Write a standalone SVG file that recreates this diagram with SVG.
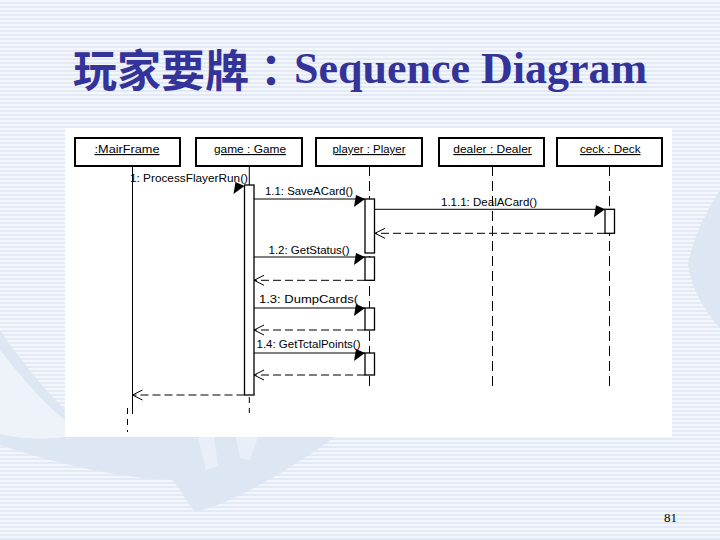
<svg xmlns="http://www.w3.org/2000/svg" xmlns:xlink="http://www.w3.org/1999/xlink" width="720" height="540" viewBox="0 0 720 540">
<defs>
<pattern id="stripes" x="0" y="0" width="8" height="4" patternUnits="userSpaceOnUse">
<rect width="8" height="4" fill="#f3f6fb"/>
<rect y="2" width="8" height="2" fill="#e3eaf5"/>
</pattern>
<path id="fhead" d="M0,0 L-9,-4 L-11,8 Z" fill="#000"/>
<path id="ohead" d="M10,-5 L0,0 L10,5" fill="none" stroke="#000" stroke-width="1"/>
</defs>
<style>
.box{fill:#fff;stroke:#000;stroke-width:2}
.lbl{font-family:"Liberation Sans",Arial,sans-serif;font-size:11.5px;fill:#000;text-decoration:underline}
.msg{font-family:"Liberation Sans",Arial,sans-serif;font-size:11.5px;fill:#000}
.life{stroke:#000;stroke-width:1;fill:none}
.dash{stroke:#000;stroke-width:1;stroke-dasharray:10 5;fill:none}
.call{stroke:#000;stroke-width:1;fill:none}
.ret{stroke:#000;stroke-width:1;stroke-dasharray:8 4;fill:none}
.act{fill:#fff;stroke:#000;stroke-width:1.3}
.swoosh{fill:#dde7f3}
</style>
<g id="background">
<rect width="720" height="540" fill="url(#stripes)"/>
<path class="swoosh" d="M0,330 C20,360 45,390 65,410 L65,437 L335,437 C300,462 260,488 215,506 L195,512 C185,500 180,488 172,480 C120,478 60,465 0,445 Z"/>
<path d="M0,350 C20,375 40,400 65,420 L65,437 C40,440 15,438 0,434 Z" fill="#eef3f9"/>
<path d="M198,437 L214,437 L218,466 L206,470 Z" fill="#e9eff8"/>
<path d="M236,437 L258,437 L250,460 L240,458 Z" fill="#e9eff8"/>
<path class="swoosh" d="M720,190 C706,212 692,240 688,265 C692,288 703,310 720,328 Z"/>
<rect x="65" y="128" width="607" height="309" fill="#fff"/>
</g>
<g id="title">
<text font-weight="bold" fill="#333399"><tspan x="73" y="87" font-family="'Noto Sans CJK TC','Noto Sans CJK SC',sans-serif" font-size="44">玩家要牌：</tspan><tspan x="294" y="83" font-family="'Liberation Serif','Times New Roman',serif" font-size="44">Sequence Diagram</tspan></text>
</g>
<g id="mainframe">
<rect class="box" x="75" y="138" width="105" height="28"/>
<text class="lbl" x="94.5" y="153" textLength="65" lengthAdjust="spacingAndGlyphs">:MairFrame</text>
<line class="life" x1="132.5" y1="166" x2="132.5" y2="414"/>
<line class="dash" x1="127.5" y1="408" x2="127.5" y2="432" style="stroke-dasharray:6 5"/>
</g>
<g id="game">
<rect class="box" x="196" y="138" width="106" height="28"/>
<text class="lbl" x="214" y="153" textLength="72" lengthAdjust="spacingAndGlyphs">game : Game</text>
<line class="life" x1="249.3" y1="166" x2="249.3" y2="185"/>
<line class="dash" x1="249.3" y1="397" x2="249.3" y2="413" style="stroke-dasharray:6 5"/>
<rect class="act" x="244.5" y="185" width="9.5" height="210"/>
</g>
<g id="player">
<rect class="box" x="316" y="138" width="106" height="28"/>
<text class="lbl" x="332.5" y="153" textLength="73" lengthAdjust="spacingAndGlyphs">player : Player</text>
<line class="dash" x1="369.5" y1="166" x2="369.5" y2="386"/>
<rect class="act" x="365" y="199" width="9.5" height="54"/>
<rect class="act" x="365" y="257" width="9.5" height="23.3"/>
<rect class="act" x="365" y="308" width="9.5" height="22"/>
<rect class="act" x="365" y="353" width="9.5" height="22"/>
</g>
<g id="dealer">
<rect class="box" x="439" y="138" width="105" height="28"/>
<text class="lbl" x="453.3" y="153" textLength="78.5" lengthAdjust="spacingAndGlyphs">dealer : Dealer</text>
<line class="dash" x1="492.5" y1="166" x2="492.5" y2="390"/>
</g>
<g id="deck">
<rect class="box" x="557" y="138" width="105" height="28"/>
<text class="lbl" x="580" y="153" textLength="60.5" lengthAdjust="spacingAndGlyphs">ceck : Deck</text>
<line class="dash" x1="609.5" y1="166" x2="609.5" y2="386"/>
<rect class="act" x="605" y="209.3" width="9.5" height="24"/>
</g>
<g id="connectors">
<text class="msg" x="130" y="182" textLength="118" lengthAdjust="spacingAndGlyphs">1: ProcessFlayerRun()</text>
<use xlink:href="#fhead" x="244.5" y="186"/>
<line class="call" x1="254" y1="199" x2="365" y2="199"/>
<use xlink:href="#fhead" x="365" y="199"/>
<text class="msg" x="265" y="195" textLength="88" lengthAdjust="spacingAndGlyphs">1.1: SaveACard()</text>
<line class="call" x1="374.5" y1="209.3" x2="605" y2="209.3"/>
<use xlink:href="#fhead" x="605" y="209.3"/>
<text class="msg" x="441" y="206" textLength="96" lengthAdjust="spacingAndGlyphs">1.1.1: DealACard()</text>
<line class="ret" x1="605" y1="233.3" x2="375" y2="233.3"/>
<use xlink:href="#ohead" x="375" y="233.3"/>
<line class="call" x1="254" y1="257" x2="365" y2="257"/>
<use xlink:href="#fhead" x="365" y="257"/>
<text class="msg" x="268.5" y="254" textLength="81" lengthAdjust="spacingAndGlyphs">1.2: GetStatus()</text>
<line class="ret" x1="365" y1="280.3" x2="254" y2="280.3"/>
<use xlink:href="#ohead" x="254" y="280.3"/>
<line class="call" x1="254" y1="308" x2="365" y2="308"/>
<use xlink:href="#fhead" x="365" y="308"/>
<text class="msg" x="259" y="302.5" textLength="99" lengthAdjust="spacingAndGlyphs">1.3: DumpCards(</text>
<line class="ret" x1="365" y1="330" x2="254" y2="330"/>
<use xlink:href="#ohead" x="254" y="330"/>
<line class="call" x1="254" y1="353" x2="365" y2="353"/>
<use xlink:href="#fhead" x="365" y="353"/>
<text class="msg" x="256.5" y="347.5" textLength="104" lengthAdjust="spacingAndGlyphs">1.4: GetTctalPoints()</text>
<line class="ret" x1="365" y1="375" x2="254" y2="375"/>
<use xlink:href="#ohead" x="254" y="375"/>
<line class="ret" x1="244.5" y1="395" x2="132.5" y2="395"/>
<use xlink:href="#ohead" x="132.5" y="395"/>
</g>
<g id="pagenum">
<text x="664" y="522" font-family="'Liberation Serif','Times New Roman',serif" font-size="13" fill="#000">81</text>
</g>
</svg>
